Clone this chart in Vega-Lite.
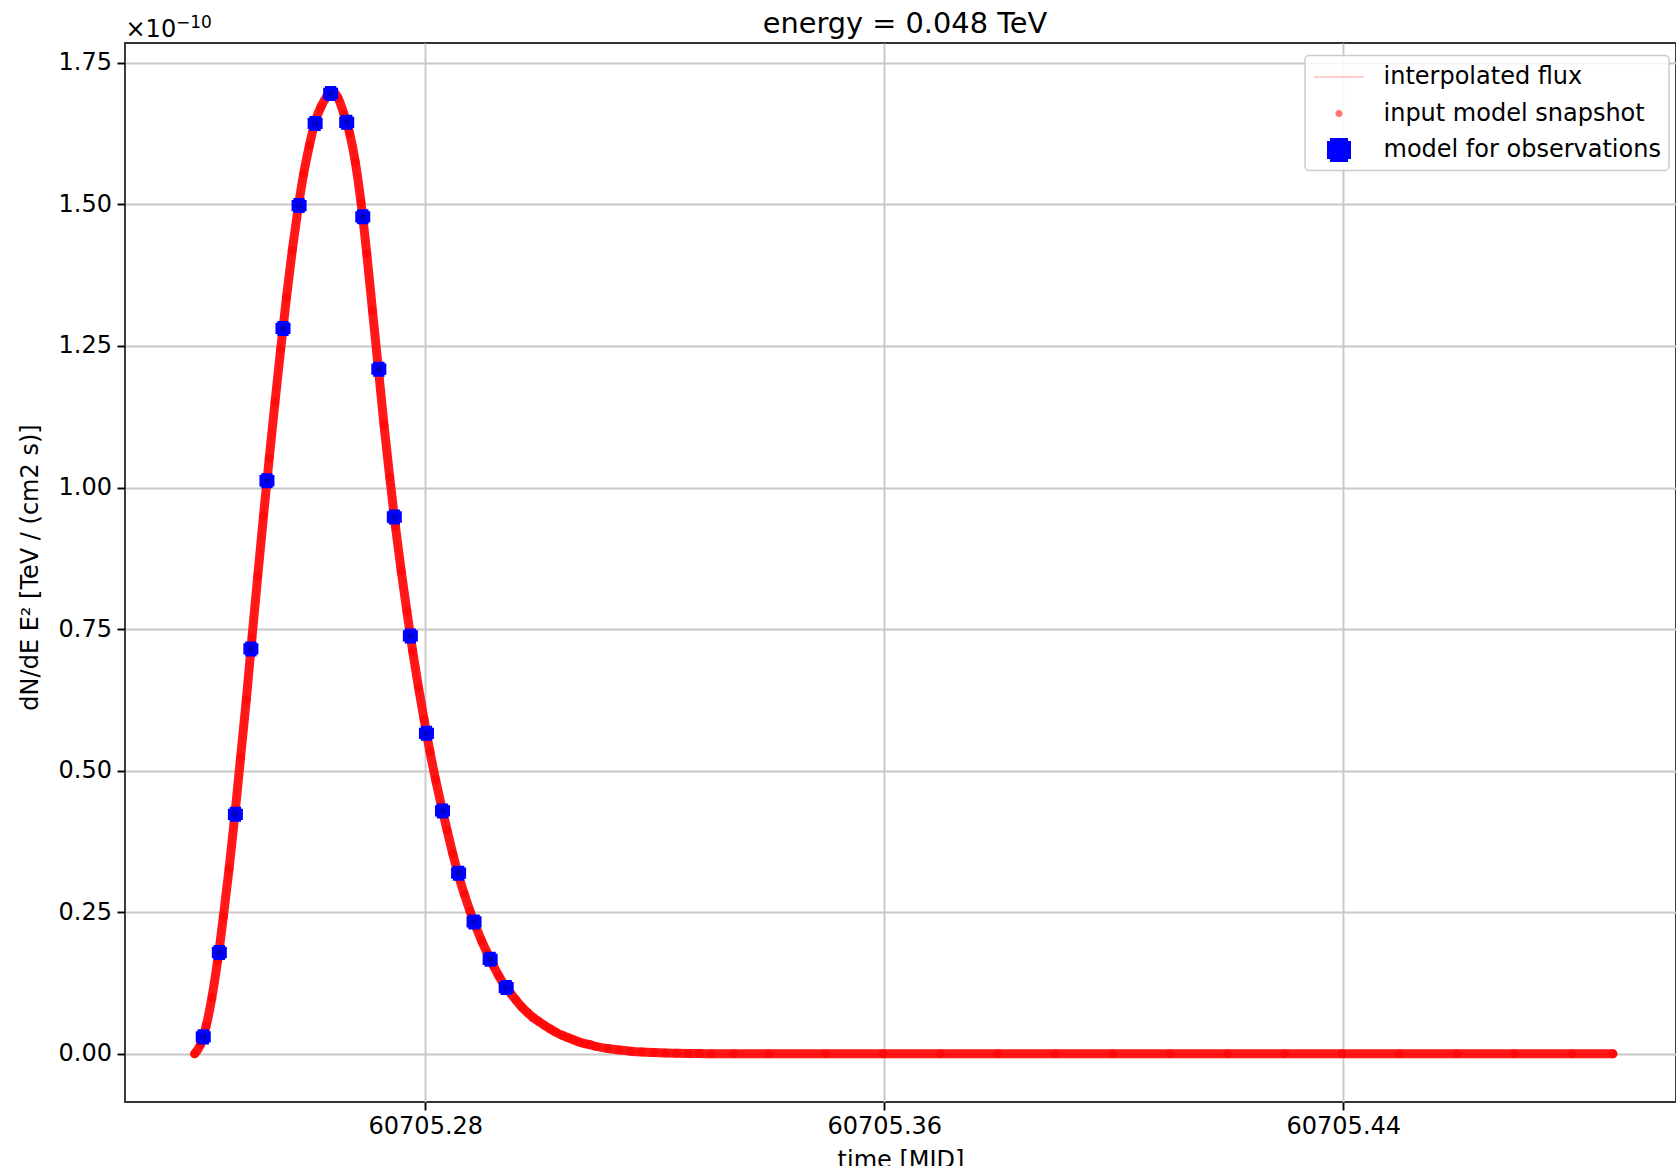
{
  "$schema": "https://vega.github.io/schema/vega-lite/v6.json",
  "width": 1551,
  "height": 1059,
  "autosize": {"type": "none"},
  "padding": {"left": 125, "top": 43, "right": 0, "bottom": 64},
  "background": "white",
  "datasets": {
    "snapshot": [
      {"t": 60705.2398, "flux": 0},
      {"t": 60705.2408, "flux": 0.016},
      {"t": 60705.2418, "flux": 0.049},
      {"t": 60705.2428, "flux": 0.099},
      {"t": 60705.2438, "flux": 0.164},
      {"t": 60705.2448, "flux": 0.242},
      {"t": 60705.2458, "flux": 0.327},
      {"t": 60705.2468, "flux": 0.421},
      {"t": 60705.2478, "flux": 0.523},
      {"t": 60705.2488, "flux": 0.625},
      {"t": 60705.2498, "flux": 0.736},
      {"t": 60705.2508, "flux": 0.844},
      {"t": 60705.2518, "flux": 0.950},
      {"t": 60705.2528, "flux": 1.052},
      {"t": 60705.2538, "flux": 1.150},
      {"t": 60705.2548, "flux": 1.245},
      {"t": 60705.2558, "flux": 1.335},
      {"t": 60705.2568, "flux": 1.418},
      {"t": 60705.2578, "flux": 1.491},
      {"t": 60705.2588, "flux": 1.554},
      {"t": 60705.2598, "flux": 1.604},
      {"t": 60705.2608, "flux": 1.646},
      {"t": 60705.2618, "flux": 1.672},
      {"t": 60705.2628, "flux": 1.690},
      {"t": 60705.2638, "flux": 1.700},
      {"t": 60705.2648, "flux": 1.688},
      {"t": 60705.2658, "flux": 1.660},
      {"t": 60705.2668, "flux": 1.626},
      {"t": 60705.2678, "flux": 1.575},
      {"t": 60705.2688, "flux": 1.503},
      {"t": 60705.2698, "flux": 1.413},
      {"t": 60705.2708, "flux": 1.312},
      {"t": 60705.2718, "flux": 1.212},
      {"t": 60705.2728, "flux": 1.111},
      {"t": 60705.2738, "flux": 1.018},
      {"t": 60705.2748, "flux": 0.931},
      {"t": 60705.2758, "flux": 0.853},
      {"t": 60705.2768, "flux": 0.781},
      {"t": 60705.2778, "flux": 0.711},
      {"t": 60705.2788, "flux": 0.648},
      {"t": 60705.2798, "flux": 0.590},
      {"t": 60705.2808, "flux": 0.534},
      {"t": 60705.2818, "flux": 0.484},
      {"t": 60705.2828, "flux": 0.438},
      {"t": 60705.2838, "flux": 0.395},
      {"t": 60705.2848, "flux": 0.353},
      {"t": 60705.2858, "flux": 0.315},
      {"t": 60705.2868, "flux": 0.282},
      {"t": 60705.2878, "flux": 0.252},
      {"t": 60705.2888, "flux": 0.225},
      {"t": 60705.2898, "flux": 0.200},
      {"t": 60705.2908, "flux": 0.178},
      {"t": 60705.2918, "flux": 0.157},
      {"t": 60705.2928, "flux": 0.138},
      {"t": 60705.2938, "flux": 0.121},
      {"t": 60705.2948, "flux": 0.108},
      {"t": 60705.2958, "flux": 0.095},
      {"t": 60705.2968, "flux": 0.083},
      {"t": 60705.2978, "flux": 0.073},
      {"t": 60705.2988, "flux": 0.064},
      {"t": 60705.2998, "flux": 0.057},
      {"t": 60705.3008, "flux": 0.050},
      {"t": 60705.3018, "flux": 0.044},
      {"t": 60705.3028, "flux": 0.038},
      {"t": 60705.3038, "flux": 0.033},
      {"t": 60705.3048, "flux": 0.029},
      {"t": 60705.3058, "flux": 0.025},
      {"t": 60705.3068, "flux": 0.021},
      {"t": 60705.3078, "flux": 0.018},
      {"t": 60705.3088, "flux": 0.016},
      {"t": 60705.3098, "flux": 0.013},
      {"t": 60705.3118, "flux": 0.0095},
      {"t": 60705.3138, "flux": 0.0068},
      {"t": 60705.3158, "flux": 0.0048},
      {"t": 60705.3178, "flux": 0.0034},
      {"t": 60705.3198, "flux": 0.0024},
      {"t": 60705.3218, "flux": 0.0016},
      {"t": 60705.3238, "flux": 0.0011},
      {"t": 60705.3258, "flux": 0.0007},
      {"t": 60705.3278, "flux": 0.0005},
      {"t": 60705.3298, "flux": 0.0003},
      {"t": 60705.3338, "flux": 0.0001},
      {"t": 60705.3398, "flux": 0},
      {"t": 60705.3498, "flux": 0},
      {"t": 60705.3598, "flux": 0},
      {"t": 60705.3698, "flux": 0},
      {"t": 60705.3798, "flux": 0},
      {"t": 60705.3898, "flux": 0},
      {"t": 60705.3998, "flux": 0},
      {"t": 60705.4098, "flux": 0},
      {"t": 60705.4198, "flux": 0},
      {"t": 60705.4298, "flux": 0},
      {"t": 60705.4398, "flux": 0},
      {"t": 60705.4498, "flux": 0},
      {"t": 60705.4598, "flux": 0},
      {"t": 60705.4698, "flux": 0},
      {"t": 60705.4798, "flux": 0},
      {"t": 60705.4870, "flux": 0}
    ],
    "obs": [
      {"t": 60705.2413, "flux": 0.030},
      {"t": 60705.2441, "flux": 0.179},
      {"t": 60705.2469, "flux": 0.423},
      {"t": 60705.2496, "flux": 0.715},
      {"t": 60705.2524, "flux": 1.012},
      {"t": 60705.2552, "flux": 1.281},
      {"t": 60705.2580, "flux": 1.498},
      {"t": 60705.2608, "flux": 1.643},
      {"t": 60705.2635, "flux": 1.696},
      {"t": 60705.2663, "flux": 1.645},
      {"t": 60705.2691, "flux": 1.478},
      {"t": 60705.2719, "flux": 1.209},
      {"t": 60705.2746, "flux": 0.948},
      {"t": 60705.2774, "flux": 0.738},
      {"t": 60705.2802, "flux": 0.566},
      {"t": 60705.2830, "flux": 0.429},
      {"t": 60705.2858, "flux": 0.319},
      {"t": 60705.2885, "flux": 0.233},
      {"t": 60705.2913, "flux": 0.167},
      {"t": 60705.2941, "flux": 0.117}
    ]
  },
  "config": {
    "font": "DejaVu Sans",
    "view": {"stroke": "#333333", "strokeWidth": 1.9},
    "axis": {
      "labelFont": "DejaVu Sans",
      "labelFontSize": 24,
      "labelColor": "#000000",
      "titleFont": "DejaVu Sans",
      "titleFontSize": 24,
      "titleColor": "#000000",
      "titleFontWeight": "normal",
      "tickColor": "#000000",
      "tickWidth": 1.9,
      "tickSize": 8,
      "gridColor": "#c8c8c8",
      "gridWidth": 1.9,
      "domain": false,
      "labelOverlap": false,
      "labelFlush": false
    },
    "legend": {
      "orient": "none",
      "legendX": 1180,
      "legendY": 12.5,
      "padding": 8,
      "fillColor": "rgba(255,255,255,0.85)",
      "strokeColor": "#cccccc",
      "strokeWidth": 1.5,
      "cornerRadius": 4,
      "labelFont": "DejaVu Sans",
      "labelFontSize": 24,
      "labelColor": "#000000",
      "labelOffset": 31,
      "labelLimit": 500,
      "symbolOffset": 12.5,
      "symbolSize": 729,
      "symbolStrokeWidth": 0,
      "rowPadding": 10.5
    }
  },
  "resolve": {"axis": {"x": "independent"}},
  "layer": [
    {
      "data": {"name": "snapshot"},
      "mark": {"type": "line", "stroke": "#ff0000", "strokeWidth": 9, "opacity": 0.9, "strokeCap": "round", "strokeJoin": "round", "interpolate": "monotone"},
      "encoding": {
        "x": {
          "field": "t", "type": "quantitative",
          "scale": {"domain": [60705.22766, 60705.49799], "nice": false, "zero": false},
          "axis": {"orient": "bottom", "values": [60705.28, 60705.36, 60705.44], "format": ".2f", "title": "time [MJD]", "labelPadding": 4, "titlePadding": 10, "grid": true}
        },
        "y": {
          "field": "flux", "type": "quantitative",
          "scale": {"domain": [-0.085, 1.785], "nice": false, "zero": false},
          "axis": {"values": [0, 0.25, 0.5, 0.75, 1.0, 1.25, 1.5, 1.75], "format": ".2f", "title": "dN/dE E² [TeV / (cm2 s)]", "titleX": -88, "titleY": 524, "titleAngle": -90, "titleAlign": "center", "titleBaseline": "alphabetic", "labelPadding": 5.5, "grid": true}
        }
      }
    },
    {
      "data": {"name": "snapshot"},
      "mark": {"type": "point", "filled": true, "opacity": 1, "size": 1136, "strokeWidth": 0},
      "encoding": {
        "x": {
          "field": "t", "type": "quantitative",
          "scale": {"domain": [60705.22766, 60705.49799], "nice": false, "zero": false},
          "axis": {"orient": "top", "labels": false, "ticks": false, "grid": false, "domain": false, "title": "−10", "titleX": 50.5, "titleY": -15.6, "titleAlign": "left", "titleAnchor": "start", "titleBaseline": "alphabetic", "titleFontSize": 17}
        },
        "y": {"field": "flux", "type": "quantitative", "scale": {"domain": [-0.085, 1.785], "nice": false, "zero": false}},
        "color": {
          "datum": "input model snapshot",
          "scale": {"domain": ["interpolated flux", "input model snapshot", "model for observations"], "range": ["rgba(255,0,0,0.2)", "rgba(255,0,0,0.55)", "#0000ff"]},
          "legend": {"title": null}
        },
        "shape": {
          "datum": "input model snapshot",
          "scale": {"domain": ["interpolated flux", "input model snapshot", "model for observations"], "range": ["M-1.852,-0.067L1.852,-0.067L1.852,0.067L-1.852,0.067Z", "M0.267,0A0.267,0.267,0,1,1,-0.267,0A0.267,0.267,0,1,1,0.267,0Z", "M-0.67,-0.889L0.67,-0.889L0.67,-0.67L0.889,-0.67L0.889,0.67L0.67,0.67L0.67,0.889L-0.67,0.889L-0.67,0.67L-0.889,0.67L-0.889,-0.67L-0.67,-0.67Z"]},
          "legend": {"title": null}
        }
      }
    },
    {
      "data": {"name": "snapshot"},
      "mark": {"type": "line", "strokeWidth": 1.8, "interpolate": "monotone"},
      "encoding": {
        "x": {"field": "t", "type": "quantitative", "scale": {"domain": [60705.22766, 60705.49799], "nice": false, "zero": false}, "axis": null},
        "y": {"field": "flux", "type": "quantitative", "scale": {"domain": [-0.085, 1.785], "nice": false, "zero": false}},
        "color": {
          "datum": "interpolated flux",
          "scale": {"domain": ["interpolated flux", "input model snapshot", "model for observations"], "range": ["rgba(255,0,0,0.2)", "rgba(255,0,0,0.55)", "#0000ff"]},
          "legend": {"title": null}
        }
      }
    },
    {
      "data": {"name": "obs"},
      "mark": {"type": "point", "filled": true, "opacity": 1, "size": 285, "strokeWidth": 0},
      "encoding": {
        "x": {
          "field": "t", "type": "quantitative",
          "scale": {"domain": [60705.22766, 60705.49799], "nice": false, "zero": false},
          "axis": {"orient": "top", "labels": false, "ticks": false, "grid": false, "domain": false, "title": "×10", "titleX": 0, "titleY": -6.3, "titleAlign": "left", "titleAnchor": "start", "titleBaseline": "alphabetic", "titleFontSize": 24}
        },
        "y": {"field": "flux", "type": "quantitative", "scale": {"domain": [-0.085, 1.785], "nice": false, "zero": false}},
        "color": {
          "datum": "model for observations",
          "scale": {"domain": ["interpolated flux", "input model snapshot", "model for observations"], "range": ["rgba(255,0,0,0.2)", "rgba(255,0,0,0.55)", "#0000ff"]},
          "legend": {"title": null}
        },
        "shape": {
          "datum": "model for observations",
          "scale": {"domain": ["interpolated flux", "input model snapshot", "model for observations"], "range": ["M-1.852,-0.067L1.852,-0.067L1.852,0.067L-1.852,0.067Z", "M0.267,0A0.267,0.267,0,1,1,-0.267,0A0.267,0.267,0,1,1,0.267,0Z", "M-0.67,-0.889L0.67,-0.889L0.67,-0.67L0.889,-0.67L0.889,0.67L0.67,0.67L0.67,0.889L-0.67,0.889L-0.67,0.67L-0.889,0.67L-0.889,-0.67L-0.67,-0.67Z"]},
          "legend": {"title": null}
        }
      }
    },
    {
      "data": {"name": "obs"},
      "mark": {"type": "circle", "color": "#0000c0", "opacity": 1, "size": 36},
      "encoding": {
        "x": {
          "field": "t", "type": "quantitative",
          "scale": {"domain": [60705.22766, 60705.49799], "nice": false, "zero": false},
          "axis": {"orient": "top", "labels": false, "ticks": false, "grid": false, "domain": false, "title": "energy = 0.048 TeV", "titleX": 779.5, "titleY": -10.7, "titleAlign": "center", "titleAnchor": "middle", "titleBaseline": "alphabetic", "titleFontSize": 28.8}
        },
        "y": {"field": "flux", "type": "quantitative", "scale": {"domain": [-0.085, 1.785], "nice": false, "zero": false}}
      }
    }
  ]
}
